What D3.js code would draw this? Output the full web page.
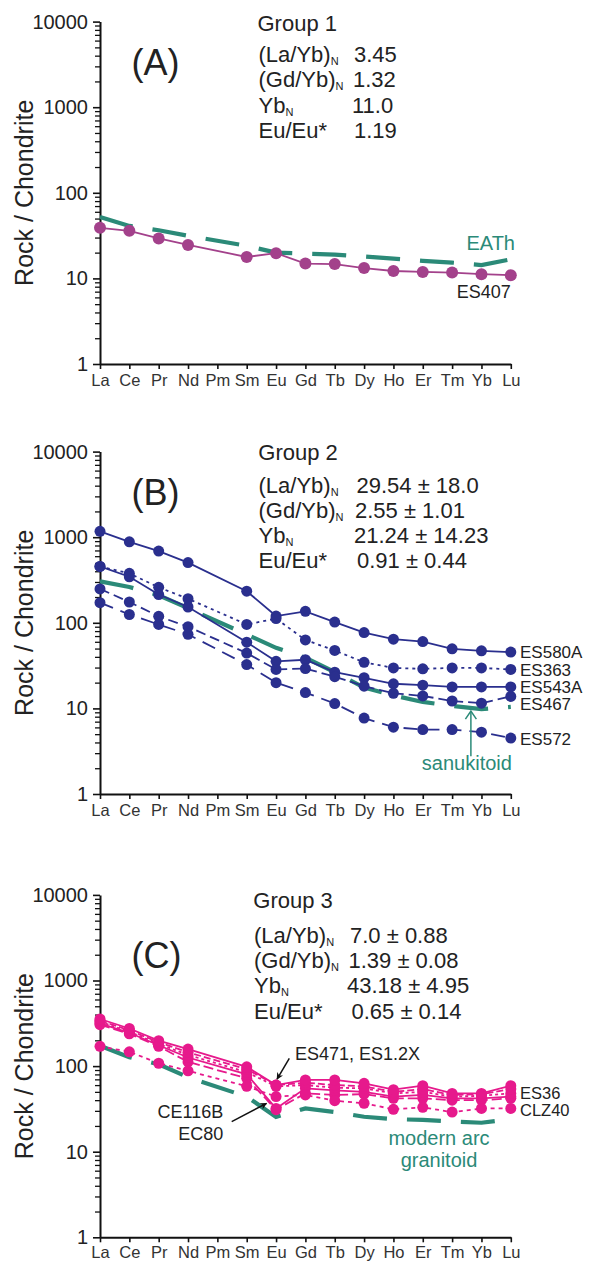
<!DOCTYPE html>
<html>
<head>
<meta charset="utf-8">
<script src="https://cdn.jsdelivr.net/npm/d3@7"></script>
<style>
  html, body { margin: 0; padding: 0; background: #fff; }
  svg { display: block; font-family: "Liberation Sans", Arial, sans-serif; }
</style>
</head>
<body>
<svg id="chart" width="589" height="1261"></svg>
<script>
// Rare earth elements along the x axis (Pm has no analyses)
const ree = ["La","Ce","Pr","Nd","Pm","Sm","Eu","Gd","Tb","Dy","Ho","Er","Tm","Yb","Lu"];
const yTickValues = [1, 10, 100, 1000, 10000];

// Chondrite-normalised values, one entry per element (null = Pm)
// Group 1
const es407 = [39, 36, 29.3, 24.6, null, 17.8, 19.7, 14.9, 14.7, 13.2, 12.2, 11.9, 11.7, 11.2, 10.9];
const eath  = [52, 41, 36.5, 31.5, null, 24, 20, 19.5, 19, 18, 17, 16, 15.3, 14.3, 16.7];

// Group 2
const es580a = [1172, 883, 689, 505, null, 234, 120, 136, 102, 77, 64.3, 60.4, 49.6, 47.1, 45.5];
const es363  = [455, 378, 260, 191, null, 95.7, 112, 63, 47.5, 34.5, 29.7, 29, 29.7, 29.7, 28.5];
const es543a = [455, 345, 214, 153, null, 59.3, 35.5, 37, 26.5, 22.8, 19.4, 18.7, 17.8, 17.8, 17.8];
const es467  = [249, 175, 119, 90, null, 44.3, 28.5, 29.2, 23.5, 18.2, 15, 14, 12.2, 11.5, 13.8];
const es572  = [172, 125, 95.6, 73.3, null, 32.5, 20, 15.3, 11.4, 7.7, 6.03, 5.66, 5.66, 5.27, 4.5];
const sanukitoid = [305, 262, 210, 148, null, 73, 51, 39, 26.5, 17.5, 14.2, 11.9, 10.7, 9.8, 10.4];

// Group 3
const es36   = [355, 275, 198, 158, null, 98, 60, 69, 69, 63, 53, 59, 48, 48, 59];
const es471  = [340, 262, 190, 145, null, 92, 60, 64, 60, 58, 50, 54, 46, 47, 54];
const es12x  = [330, 252, 182, 135, null, 85, 58, 60, 56, 55, 48, 50, 44, 45, 48];
const ce116b = [315, 245, 175, 126, null, 80, 32, 55, 52, 50, 44, 46, 42, 42, 44];
const ec80   = [305, 238, 170, 112, null, 72, 31, 48, 46, 47, 42, 42, 40, 40, 42];
const clz40  = [170, 147, 108, 88, null, 58, 44, 46, 39.4, 36.8, 31.3, 33, 29, 32, 32];
const modernArc = [173, 127, 105, 74, null, 44, 25.5, 32, 29, 25.6, 24, 23.5, 22.5, 21.8, 24];

// Summary statistics printed in each panel
const statNames = ["(La/Yb)", "(Gd/Yb)", "Yb", "Eu/Eu*"];
const statSub = ["N", "N", "N", ""];
const group1Stats = ["3.45", "1.32", "11.0", "1.19"];
const group2Stats = ["29.54 \u00b1 18.0", "2.55 \u00b1 1.01", "21.24 \u00b1 14.23", "0.91 \u00b1 0.44"];
const group3Stats = ["7.0 \u00b1 0.88", "1.39 \u00b1 0.08", "43.18 \u00b1 4.95", "0.65 \u00b1 0.14"];

const TEAL = "#2b8a78";
const TEXT = "#222";

const svg = d3.select("#chart");

// Arrowhead for the black annotation arrows
svg.append("defs").append("marker")
  .attr("id", "arrowhead")
  .attr("viewBox", "0 0 10 10")
  .attr("refX", 9).attr("refY", 5)
  .attr("markerWidth", 7).attr("markerHeight", 7)
  .attr("markerUnits", "userSpaceOnUse")
  .attr("orient", "auto")
  .append("path").attr("d", "M0,0 L10,5 L0,10 L3,5 Z").attr("fill", "#111");

const panels = [
  {
    base: 364, letter: "(A)", letterY: 75, tickPad: 5.5,
    title: "Group 1", titleX: 257.5, titleY: 30.7,
    statX: 258.5, statY: [61.7, 87.3, 112.7, 138.3], valX: [354, 353, 352, 354], values: group1Stats,
    ref: { data: eath }, color: "#a3418b", r: 6,
    series: [{ name: "ES407", data: es407, dash: null }]
  },
  {
    base: 794, letter: "(B)", letterY: 505, tickPad: 5.5,
    title: "Group 2", titleX: 258.3, titleY: 460,
    statX: 258.5, statY: [492.7, 518.3, 543.3, 568.3], valX: [356.5, 355, 354, 357], values: group2Stats,
    ref: { data: sanukitoid }, color: "#2a2f8e", r: 5.5,
    series: [
      { name: "ES580A", data: es580a, dash: null, dy: 6.3 },
      { name: "ES363", data: es363, dash: "3,4", dy: 6.3 },
      { name: "ES543A", data: es543a, dash: null, dy: 6.3 },
      { name: "ES467", data: es467, dash: "10,5", dy: 14 },
      { name: "ES572", data: es572, dash: "14,8", dy: 6.5 }
    ]
  },
  {
    base: 1237.3, letter: "(C)", letterY: 968, tickPad: 4,
    title: "Group 3", titleX: 253.3, titleY: 907.5,
    statX: 254, statY: [943.3, 968.3, 993.3, 1019.3], valX: [350, 348.5, 347, 351.5], values: group3Stats,
    ref: { data: modernArc }, color: "#e6198c", r: 5.5,
    series: [
      { name: "EC80", data: ec80, dash: "10,4" },
      { name: "CE116B", data: ce116b, dash: null },
      { name: "ES1.2X", data: es12x, dash: "3,3" },
      { name: "ES471", data: es471, dash: "7,3" },
      { name: "ES36", data: es36, dash: null, dy: 13.5 },
      { name: "CLZ40", data: clz40, dash: "4,4", dy: 8 }
    ]
  }
];

function points(data) {
  return ree.map((k, i) => ({ k, v: data[i] })).filter(d => d.v != null);
}

panels.forEach(p => {
  const g = svg.append("g");
  const x = d3.scalePoint().domain(ree).range([100, 510.8]);
  const y = d3.scaleLog().domain([1, 10000]).range([p.base, p.base - 342.4]);
  p.x = x; p.y = y;

  // minor ticks (2..9 of each decade)
  const minor = [];
  for (let e = 0; e < 4; e++) for (let m = 2; m <= 9; m++) minor.push(m * Math.pow(10, e));
  const ym = g.append("g").attr("transform", "translate(100,0)")
    .call(d3.axisLeft(y).tickValues(minor).tickSize(5).tickFormat(""));
  ym.select(".domain").remove();
  ym.selectAll("line").attr("stroke", "#111").attr("stroke-width", 1.3);

  // major ticks and labels
  const ya = g.append("g").attr("transform", "translate(100,0)")
    .call(d3.axisLeft(y).tickValues(yTickValues).tickFormat(d3.format("d"))
      .tickSize(7).tickSizeOuter(0).tickPadding(5));
  ya.select(".domain").attr("stroke", "#111").attr("stroke-width", 2);
  ya.selectAll("line").attr("stroke", "#111").attr("stroke-width", 1.6);
  ya.selectAll("text").attr("font-size", 20).attr("fill", TEXT)
    .attr("font-family", "Liberation Sans, Arial, sans-serif");

  // x axis
  const xa = g.append("g").attr("transform", `translate(0,${p.base})`)
    .call(d3.axisBottom(x).tickSize(5).tickSizeOuter(0).tickPadding(p.tickPad));
  xa.select(".domain").attr("stroke", "#111").attr("stroke-width", 2);
  xa.selectAll("line").attr("stroke", "#111").attr("stroke-width", 1.6);
  xa.selectAll("text").attr("font-size", 16.5).attr("fill", "#333")
    .attr("font-family", "Liberation Sans, Arial, sans-serif");

  // y axis title
  g.append("text")
    .attr("transform", `translate(33,${(y(1) + y(10000)) / 2}) rotate(-90)`)
    .attr("text-anchor", "middle").attr("font-size", 25).attr("fill", TEXT)
    .text("Rock / Chondrite");

  // panel letter
  g.append("text").attr("x", 131.6).attr("y", p.letterY)
    .attr("font-size", 36).attr("fill", TEXT).text(p.letter);

  // group title and statistics
  g.append("text").attr("x", p.titleX).attr("y", p.titleY)
    .attr("font-size", 22).attr("fill", TEXT).text(p.title);
  statNames.forEach((s, i) => {
    const t = g.append("text").attr("x", p.statX).attr("y", p.statY[i])
      .attr("font-size", 22).attr("fill", TEXT).text(s);
    if (statSub[i]) t.append("tspan").attr("font-size", 11).attr("dy", 3).text(statSub[i]);
    g.append("text").attr("x", p.valX[i]).attr("y", p.statY[i])
      .attr("font-size", 22).attr("fill", TEXT).text(p.values[i]);
  });

  const line = d3.line().x(d => x(d.k)).y(d => y(d.v));

  // reference pattern (thick teal dashes)
  g.append("path").datum(points(p.ref.data))
    .attr("d", line).attr("fill", "none").attr("stroke", TEAL)
    .attr("stroke-width", 4.2).attr("stroke-dasharray", "34,20");

  // sample patterns
  p.series.forEach(s => {
    const pts = points(s.data);
    g.append("path").datum(pts).attr("d", line).attr("fill", "none")
      .attr("stroke", p.color).attr("stroke-width", 1.8)
      .attr("stroke-dasharray", s.dash);
    g.selectAll(null).data(pts).join("circle")
      .attr("cx", d => x(d.k)).attr("cy", d => y(d.v)).attr("r", p.r)
      .attr("fill", p.color);
  });
  p.g = g;
});

// ---- Panel A annotations
{
  const p = panels[0], g = p.g;
  g.append("text").attr("x", 510.7).attr("y", p.y(es407[14]) + 23)
    .attr("text-anchor", "end").attr("font-size", 18).attr("fill", TEXT).text("ES407");
  g.append("text").attr("x", 515).attr("y", p.y(eath[14]) - 9.3)
    .attr("text-anchor", "end").attr("font-size", 20).attr("fill", TEAL).text("EATh");
}

// ---- Panel B annotations
{
  const p = panels[1], g = p.g;
  p.series.forEach(s => {
    g.append("text").attr("x", 520).attr("y", p.y(s.data[14]) + s.dy)
      .attr("font-size", 17).attr("fill", TEXT).text(s.name);
  });
  const ax = p.x("Tm") + (p.x("Yb") - p.x("Tm")) * 0.64;
  const top = p.y(sanukitoid[13]) + 2;
  g.append("line").attr("x1", ax).attr("x2", ax).attr("y1", top).attr("y2", top + 45)
    .attr("stroke", TEAL).attr("stroke-width", 1.5);
  g.append("path").attr("d", `M${ax - 5.5},${top + 8} L${ax},${top} L${ax + 5.5},${top + 8}`)
    .attr("fill", "none").attr("stroke", TEAL).attr("stroke-width", 1.5);
  g.append("text").attr("x", ax - 4).attr("y", top + 59).attr("text-anchor", "middle")
    .attr("font-size", 20).attr("fill", TEAL).text("sanukitoid");
}

// ---- Panel C annotations
{
  const p = panels[2], g = p.g;
  p.series.filter(s => s.dy).forEach(s => {
    g.append("text").attr("x", 520).attr("y", p.y(s.data[14]) + s.dy)
      .attr("font-size", 16.5).attr("fill", TEXT).text(s.name);
  });
  const ex = p.x("Eu");
  // upper Eu samples
  g.append("text").attr("x", 295).attr("y", 1060).attr("font-size", 18).attr("fill", TEXT)
    .text("ES471, ES1.2X");
  g.append("line").attr("x1", 289.3).attr("y1", 1058.3)
    .attr("x2", ex + 1).attr("y2", p.y(es471[6]) - 6)
    .attr("stroke", "#111").attr("stroke-width", 1.5).attr("marker-end", "url(#arrowhead)");
  // lower Eu samples
  g.append("text").attr("x", 223.3).attr("y", 1118.3).attr("text-anchor", "end")
    .attr("font-size", 18).attr("fill", TEXT).text("CE116B");
  g.append("text").attr("x", 223.3).attr("y", 1140).attr("text-anchor", "end")
    .attr("font-size", 18).attr("fill", TEXT).text("EC80");
  g.append("line").attr("x1", 231.7).attr("y1", 1121.7)
    .attr("x2", ex - 9.5).attr("y2", 1103.3)
    .attr("stroke", "#111").attr("stroke-width", 1.5).attr("marker-end", "url(#arrowhead)");
  // reference label
  g.append("text").attr("x", 439).attr("y", 1145).attr("text-anchor", "middle")
    .attr("font-size", 20).attr("fill", TEAL).text("modern arc");
  g.append("text").attr("x", 439).attr("y", 1166.5).attr("text-anchor", "middle")
    .attr("font-size", 20).attr("fill", TEAL).text("granitoid");
}
</script>
</body>
</html>
